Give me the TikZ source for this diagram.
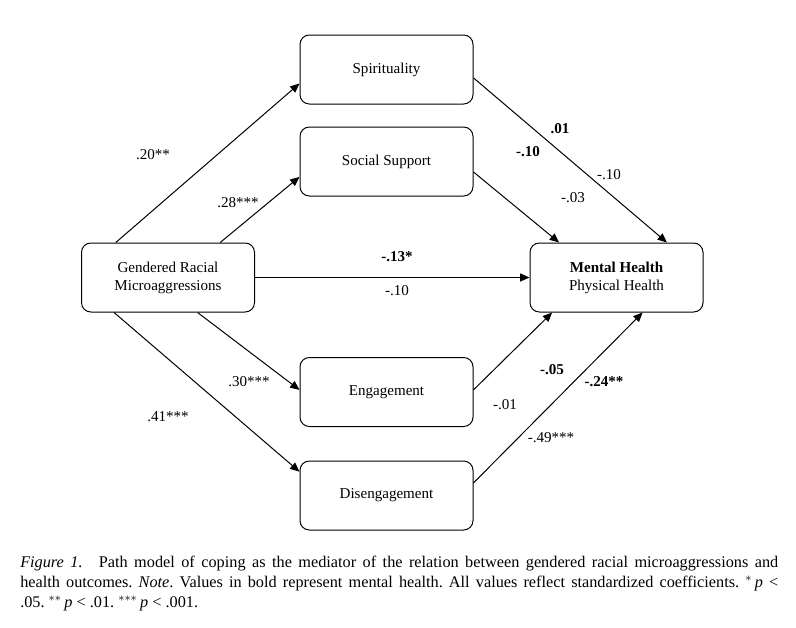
\documentclass[tikz,border=0pt]{standalone}
\usepackage{fontspec}
\setmainfont{Liberation Serif}
\usetikzlibrary{calc, arrows.meta}

\begin{document}
\begin{tikzpicture}[x=0.75pt, y=-0.75pt,
    var/.style={draw, rounded corners=7pt, line width=0.75pt, minimum width=129.75pt,
        minimum height=51.75pt, align=center, font=\fontsize{11.3}{13.5}\selectfont},
    path/.style={line width=0.75pt, -{Triangle[length=7pt, width=6pt]}},
    coef/.style={inner sep=0pt, font=\fontsize{11.3}{13.5}\selectfont}]
    \useasboundingbox (0,0) rectangle (796,628);

    % Define the variables of the path model
    \node[var] (spir) at (386.5,69.5) {Spirituality};
    \node[var] (soc) at (386.5,161.5) {Social Support};
    \node[var] (grm) at (168,277.5) {Gendered Racial\\Microaggressions};
    \node[var] (mh) at (616.5,277.5) {\textbf{Mental Health}\\Physical Health};
    \node[var] (eng) at (386.5,392) {Engagement};
    \node[var] (dis) at (386.5,495.5) {Disengagement};

    % Paths from the predictor to the coping mediators
    \draw[path] ($(grm.north west)!0.2!(grm.north east)$) -- ($(spir.north west)!0.7!(spir.south west)$);
    \draw[path] ($(grm.north west)!0.8!(grm.north east)$) -- ($(soc.north west)!0.72!(soc.south west)$);
    \draw[path] ($(grm.south west)!0.67!(grm.south east)$) -- ($(eng.north west)!0.47!(eng.south west)$);
    \draw[path] ($(grm.south west)!0.19!(grm.south east)$) -- ($(dis.north west)!0.16!(dis.south west)$);

    % Direct path
    \draw[path] (grm.east) -- (mh.west);

    % Paths from the mediators to the outcomes
    \draw[path] ($(spir.north east)!0.62!(spir.south east)$) -- ($(mh.north west)!0.79!(mh.north east)$);
    \draw[path] ($(soc.north east)!0.65!(soc.south east)$) -- ($(mh.north west)!0.17!(mh.north east)$);
    \draw[path] ($(eng.north east)!0.47!(eng.south east)$) -- ($(mh.south west)!0.13!(mh.south east)$);
    \draw[path] ($(dis.north east)!0.32!(dis.south east)$) -- ($(mh.south west)!0.65!(mh.south east)$);

    % Coefficients (bold = mental health)
    \node[coef] (a1) at (153,155) {.20**};
    \node[coef] (a2) at (238,203) {.28***};
    \node[coef] (a3) at (249,382) {.30***};
    \node[coef] (a4) at (168,417) {.41***};
    \node[coef] (c1) at (397,257) {\textbf{-.13*}};
    \node[coef] (c2) at (397,291) {-.10};
    \node[coef] (b1) at (560,129) {\textbf{.01}};
    \node[coef] (b2) at (609,175) {-.10};
    \node[coef] (b3) at (528,152) {\textbf{-.10}};
    \node[coef] (b4) at (573,198) {-.03};
    \node[coef] (b5) at (552,370) {\textbf{-.05}};
    \node[coef] (b6) at (505,405) {-.01};
    \node[coef] (b7) at (604,382) {\textbf{-.24**}};
    \node[coef] (b8) at (551,438) {-.49***};

    % Figure caption
    \node[anchor=north west, inner sep=0pt, text width=568.5pt, align=justify,
        font=\fontsize{12.2}{15}\selectfont\frenchspacing] (cap) at (20,556)
        {\textit{Figure 1.}\quad Path model of coping as the mediator of the relation between gendered racial microaggressions and\linebreak
        health outcomes. \textit{Note}. Values in bold represent mental health. All values reflect standardized coefficients. $^{*}$\,\textit{p} <\linebreak
        .05. $^{**}$\,\textit{p} < .01. $^{***}$\,\textit{p} < .001.};
\end{tikzpicture}
\end{document}
